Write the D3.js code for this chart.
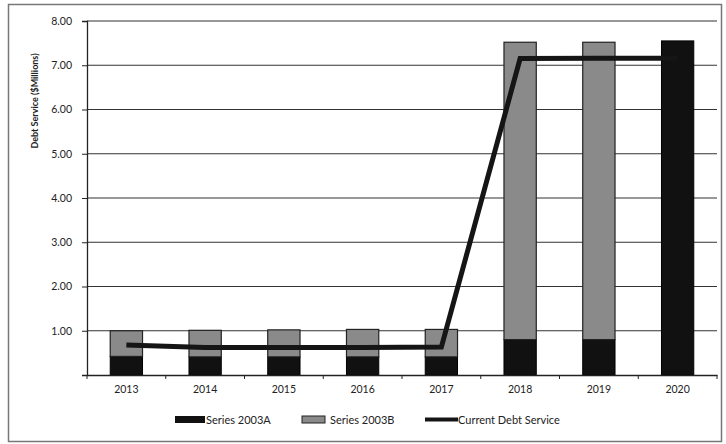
<!DOCTYPE html>
<html><head><meta charset="utf-8">
<script src="https://cdn.jsdelivr.net/npm/d3@7"></script>
<style>body{margin:0;background:#fff}svg{display:block;font-family:Lato,"Open Sans",sans-serif}</style>
</head><body><svg id="c" width="726" height="444"></svg>
<script>
const years = ["2013","2014","2015","2016","2017","2018","2019","2020"];
const series2003A = [0.42,0.41,0.41,0.41,0.41,0.80,0.80,7.55];
const series2003B = [0.58,0.60,0.61,0.62,0.62,6.72,6.72,0];
const currentDebtService = [0.68,0.62,0.62,0.62,0.63,7.15,7.16,7.16];
const yTicks = [0,1,2,3,4,5,6,7,8];

const svg = d3.select("#c");
const m = {l:87, r:717, t:21, b:375};
const x = d3.scaleBand().domain(years).range([m.l,m.r]).paddingInner(0.59).paddingOuter(0.295);
const xb = d3.scaleBand().domain(years).range([m.l,m.r]);
const y = d3.scaleLinear().domain([0,8]).range([m.b,m.t]);

// outer border
svg.append("rect").attr("x",8.5).attr("y",4.5).attr("width",713).attr("height",437)
  .attr("fill","none").attr("stroke","#777").attr("stroke-width",1.5);

// gridlines
svg.append("g").selectAll("line").data(yTicks.slice(1)).join("line")
  .attr("x1",m.l).attr("x2",m.r).attr("y1",d=>y(d)).attr("y2",d=>y(d))
  .attr("stroke","#333").attr("stroke-width",1.2);

// y axis
const ya = svg.append("g").attr("transform",`translate(${m.l},0)`)
  .call(d3.axisLeft(y).tickValues(yTicks).tickFormat(d=>d===0?"":d3.format(".2f")(d)).tickSize(5).tickPadding(10));
ya.select(".domain").attr("stroke","#222").attr("stroke-width",1.3);
ya.selectAll(".tick line").attr("stroke","#222");
ya.selectAll("text").attr("font-size",10.5).attr("fill","#222").attr("font-family","Lato,sans-serif");

// bars
const stackData = years.map((yr,i)=>({yr,a:series2003A[i],b:series2003B[i]}));
svg.append("g").selectAll("rect").data(stackData).join("rect")
  .attr("x",d=>x(d.yr)).attr("width",x.bandwidth())
  .attr("y",d=>y(d.a)).attr("height",d=>y(0)-y(d.a))
  .attr("fill","#111").attr("stroke","#000").attr("stroke-width",1);
svg.append("g").selectAll("rect").data(stackData.filter(d=>d.b>0)).join("rect")
  .attr("x",d=>x(d.yr)).attr("width",x.bandwidth())
  .attr("y",d=>y(d.a+d.b)).attr("height",d=>y(d.a)-y(d.a+d.b))
  .attr("fill","#8a8a8a").attr("stroke","#222").attr("stroke-width",1.2);

// line
const line = d3.line().x((d,i)=>xb(years[i])+xb.bandwidth()/2).y(d=>y(d));
svg.append("path").datum(currentDebtService).attr("d",line)
  .attr("fill","none").attr("stroke","#151515").attr("stroke-width",5).attr("stroke-linejoin","miter");

// x axis
const xa = svg.append("g").attr("transform",`translate(0,${m.b})`)
  .call(d3.axisBottom(xb).tickSize(0).tickPadding(11));
xa.select(".domain").attr("stroke","#222").attr("stroke-width",1.3);
xa.selectAll("text").attr("font-size",10.5).attr("fill","#222").attr("font-family","Lato,sans-serif");
svg.append("g").selectAll("line").data(years.concat(["end"])).join("line")
  .attr("x1",(d,i)=>m.l+i*xb.step()).attr("x2",(d,i)=>m.l+i*xb.step())
  .attr("y1",m.b).attr("y2",m.b+4).attr("stroke","#222");

// y title
svg.append("text").attr("transform","translate(38,101) rotate(-90)")
  .attr("text-anchor","middle").attr("font-size",9).attr("font-weight","bold").attr("fill","#222")
  .text("Debt Service ($Millions)");

// legend
const lg = svg.append("g").attr("font-size",11).attr("fill","#222");
lg.append("rect").attr("x",175).attr("y",416).attr("width",30).attr("height",7).attr("fill","#111");
lg.append("text").attr("x",206).attr("y",424).text("Series 2003A");
lg.append("rect").attr("x",302).attr("y",416).attr("width",23).attr("height",7).attr("fill","#8a8a8a").attr("stroke","#222");
lg.append("text").attr("x",330).attr("y",424).text("Series 2003B");
lg.append("line").attr("x1",425).attr("x2",458).attr("y1",419.5).attr("y2",419.5).attr("stroke","#151515").attr("stroke-width",4);
lg.append("text").attr("x",458).attr("y",424).text("Current Debt Service");
</script></body></html>
